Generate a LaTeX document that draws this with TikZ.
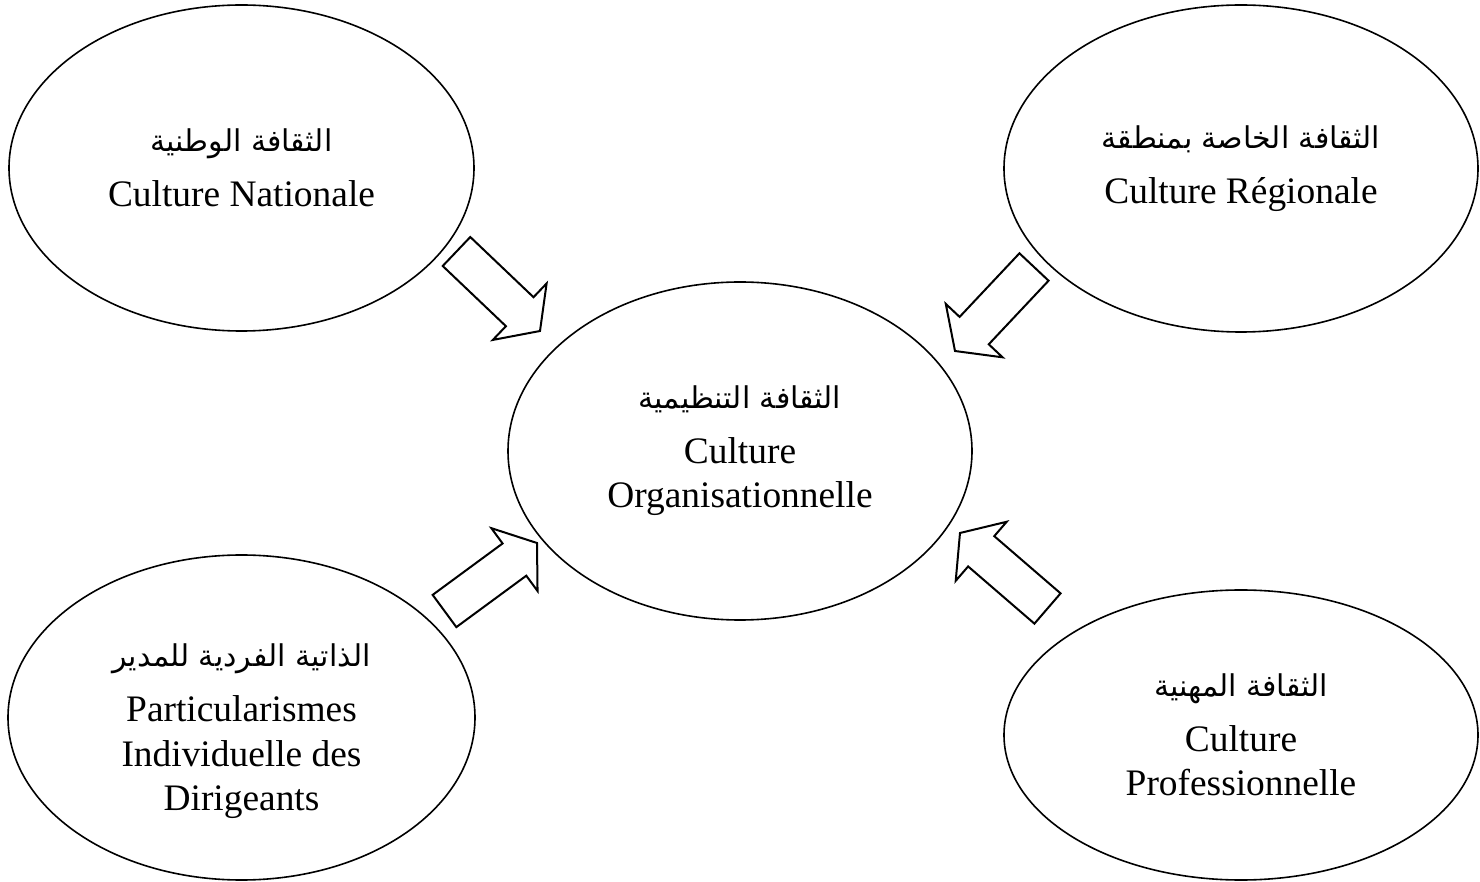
\documentclass[tikz,border=0pt]{standalone}
\usepackage{fontspec}
\setmainfont{Liberation Serif}
\newfontfamily\arabicfont[Script=Arabic]{DejaVu Sans}
\TeXXeTstate=1
\usetikzlibrary{shapes.geometric,calc,positioning}
\newcommand{\artxt}[1]{{\arabicfont\fontsize{15}{18}\selectfont\beginR #1\endR}\\[5pt]}
\newcommand{\blockarrow}[2]{%
  \coordinate (HB) at ($(#2)!14pt!(#1)$);
  \draw[barrow] ($(#1)!10pt!90:(#2)$) -- ($(HB)!10pt!90:(#2)$) -- ($(HB)!19.5pt!90:(#2)$) -- (#2)
   -- ($(HB)!19.5pt!-90:(#2)$) -- ($(HB)!10pt!-90:(#2)$) -- ($(#1)!10pt!-90:(#2)$) -- cycle;}

\begin{document}
\begin{tikzpicture}[x=0.5pt,y=-0.5pt,
    cult/.style={ellipse,draw,line width=0.8pt,inner sep=0pt,align=center,
      font=\fontsize{18.7}{22.3}\selectfont},
    ctxt/.style={inner sep=0pt,align=center,font=\fontsize{18.7}{22.3}\selectfont},
    barrow/.style={draw,line width=1pt,line join=miter}]
 \useasboundingbox (0,0) rectangle (1480,882);
 \node[cult,minimum width=232.5pt,minimum height=163pt] (NAT) at (241.5,168)
  {\artxt{الثقافة الوطنية}Culture Nationale};
 \node[cult,minimum width=237pt,minimum height=163.5pt] (REG) at (1241,168.5)
  {\artxt{الثقافة الخاصة بمنطقة}Culture Régionale};
 \node[cult,minimum width=232pt,minimum height=169pt] (ORG) at (740,451)
  {\artxt{الثقافة التنظيمية}Culture\\Organisationnelle};
 \node[cult,minimum width=233.5pt,minimum height=162.5pt] (DIR) at (241.5,717.5) {};
 \node[ctxt] (DIR-l) at ([yshift=-7pt]DIR.center)
  {\artxt{الذاتية الفردية للمدير}Particularismes\\Individuelle des\\Dirigeants};
 \node[cult,minimum width=237pt,minimum height=145pt] (PRO) at (1241,735)
  {\artxt{الثقافة المهنية}Culture\\Professionnelle};
 % arrows into the centre
 \coordinate (NAT-t) at (456.5,251.5); \coordinate (NAT-h) at (540,331);
 \coordinate (REG-t) at (1034,267);    \coordinate (REG-h) at (955,351);
 \coordinate (DIR-t) at (444.5,611);   \coordinate (DIR-h) at (537,543);
 \coordinate (PRO-t) at (1047.5,608.5); \coordinate (PRO-h) at (960,533);
 \foreach \X in {NAT,REG,DIR,PRO} {\blockarrow{\X-t}{\X-h}}
\end{tikzpicture}
\end{document}
